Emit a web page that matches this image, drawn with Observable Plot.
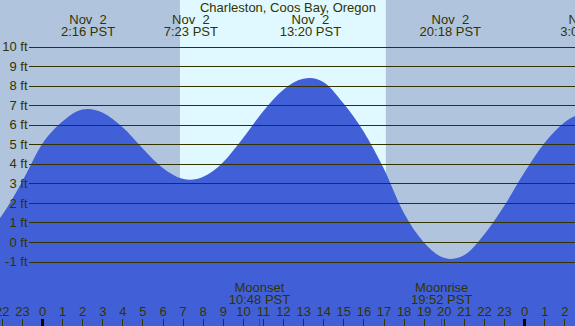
<!DOCTYPE html>
<html>
<head>
<meta charset="utf-8">
<script src="https://cdn.jsdelivr.net/npm/d3@7"></script>
<script src="https://cdn.jsdelivr.net/npm/@observablehq/plot@0.6"></script>
<style>
  html, body { margin: 0; padding: 0; background: #b0c4de; }
  #chart svg text { white-space: pre; }
</style>
</head>
<body>
<div id="chart"></div>
<script>
// Tide heights (ft) at Charleston, Coos Bay — hours counted from midnight Nov 2 (PST)
const tideHour = [-3, -2, -1, 0, 1, 2, 2.27, 3, 4, 5, 6, 7, 7.38, 8, 9, 10, 11, 12, 13, 13.33,
                  14, 15, 16, 17, 18, 19, 20, 20.3, 21, 22, 23, 24, 25, 26, 27, 27.12, 28];
const tideFt   = [0.2, 1.35, 3.07, 5.0, 6.15, 6.78, 6.81, 6.63, 5.88, 4.8, 3.8, 3.23, 3.18, 3.32, 4.07, 5.31, 6.68, 7.78, 8.35, 8.39,
                  8.19, 7.1, 5.67, 3.78, 1.51, -0.01, -0.81, -0.87, -0.68, 0.37, 1.84, 3.54, 5.05, 6.12, 6.6, 6.62, 6.35];

// High / low tide times shown along the top
const extremeDate = ["Nov  2", "Nov  2", "Nov  2", "Nov  2", "Nov  3"];
const extremeTime = ["2:16", "7:23", "13:20", "20:18", "3:07"];
const extremeDayOffset = [0, 0, 0, 0, 24];

// Daylight window
const sunrise = "6:52";
const sunset = "17:07";

// Moon events
const moonEvent = ["Moonset", "Moonrise"];
const moonTime = ["10:48", "19:52"];

// Axis values
const feet = [-1, 0, 1, 2, 3, 4, 5, 6, 7, 8, 9, 10];
const hourTicks = d3.range(-2, 27);

const title = "Charleston, Coos Bay, Oregon";

// Colours
const nightColor = "#b0c4de";
const dayColor = "#e0f8ff";
const waterColor = "#4160d8";
const inkColor = "#333300";

// Frame geometry
const W = 575, H = 326;
const midnightPx = 42, hourPx = 20.09;      // x: pixels at midnight, pixels per hour
const zeroFtPx = 242, footPx = 19.545;      // y: pixels at 0 ft, pixels per foot
const xDomain = [-midnightPx / hourPx, (W - midnightPx) / hourPx];
const yDomain = [(zeroFtPx - H) / footPx, zeroFtPx / footPx];
const gridStart = xDomain[0] + 29 / hourPx;
const tickLen = 7 / footPx;

const toHours = (t) => { const [h, m] = t.split(":").map(Number); return h + m / 60; };

const tide = tideHour.map((h, i) => ({hour: h, ft: tideFt[i]}));
const extremes = extremeTime.map((t, i) => ({
  hour: toHours(t) + extremeDayOffset[i], date: extremeDate[i], label: `${t} PST`
}));
const moon = moonEvent.map((e, i) => ({hour: toHours(moonTime[i]), event: e, label: `${moonTime[i]} PST`}));
const daylight = [{start: toHours(sunrise), end: toHours(sunset)}];
const regularTicks = hourTicks.filter((h) => ((h % 24) + 24) % 24 !== 0);
const midnightTicks = hourTicks.filter((h) => ((h % 24) + 24) % 24 === 0);

const textStyle = {fill: inkColor, fontSize: 13, lineAnchor: "middle"};

const chart = Plot.plot({
  width: W,
  height: H,
  margin: 0,
  style: {background: nightColor, fontFamily: "'Liberation Sans', Arial, sans-serif", fontSize: "13px"},
  x: {domain: xDomain, axis: null},
  y: {domain: yDomain, axis: null},
  marks: [
    // daylight band
    Plot.rect(daylight, {x1: "start", x2: "end", y1: () => yDomain[0], y2: () => yDomain[1], fill: dayColor}),
    // water
    Plot.areaY(tide, {x: "hour", y1: () => yDomain[0], y2: "ft", fill: waterColor, curve: "monotone-x", clip: true}),
    // one-foot grid lines
    Plot.ruleY(feet, {y: (d) => d, x1: () => gridStart, x2: () => xDomain[1], stroke: inkColor, strokeWidth: 1, shapeRendering: "crispEdges"}),
    Plot.text(feet, {y: (d) => d, text: (d) => `${d} ft`, frameAnchor: "left", textAnchor: "end", dx: 27, ...textStyle}),
    // title and tide extremes
    Plot.text([title], {text: (d) => d, frameAnchor: "top", dy: 7.5, ...textStyle}),
    Plot.text(extremes, {x: "hour", text: "date", frameAnchor: "top", dy: 19.5, ...textStyle}),
    Plot.text(extremes, {x: "hour", text: "label", frameAnchor: "top", dy: 31.5, ...textStyle}),
    // hour ticks and labels
    Plot.ruleX(regularTicks, {x: (d) => d, y1: () => yDomain[0], y2: () => yDomain[0] + tickLen, stroke: inkColor, strokeWidth: 1, shapeRendering: "crispEdges"}),
    Plot.ruleX(midnightTicks, {x: (d) => d, y1: () => yDomain[0], y2: () => yDomain[0] + tickLen, stroke: "#000", strokeWidth: 3, shapeRendering: "crispEdges"}),
    Plot.ruleX(moon, {x: "hour", y1: () => yDomain[0], y2: () => yDomain[0] + tickLen, stroke: "#ff0000", strokeWidth: 1, shapeRendering: "crispEdges"}),
    Plot.text(hourTicks, {x: (d) => d, text: (d) => String(((d % 24) + 24) % 24), frameAnchor: "bottom", dy: -14.5, ...textStyle}),
    // moon events
    Plot.text(moon, {x: "hour", text: "event", frameAnchor: "bottom", dy: -38.5, ...textStyle}),
    Plot.text(moon, {x: "hour", text: "label", frameAnchor: "bottom", dy: -26.5, ...textStyle})
  ]
});

document.getElementById("chart").appendChild(chart);
</script>
</body>
</html>
